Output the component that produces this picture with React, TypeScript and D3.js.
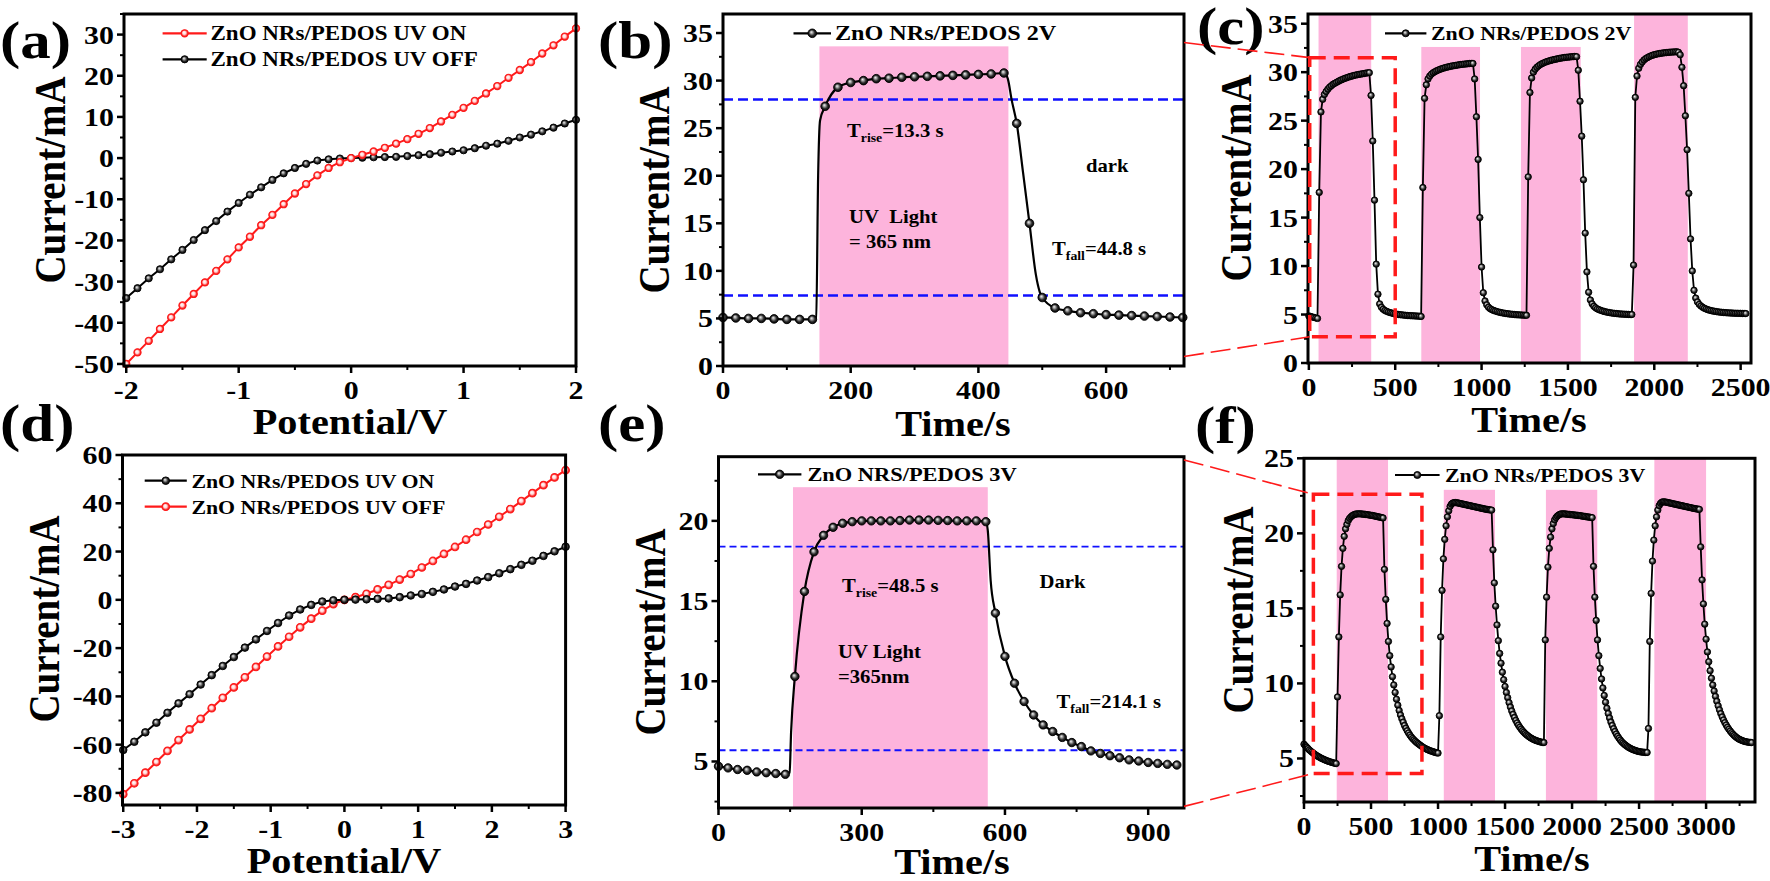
import React from 'react';
import * as d3 from 'd3';

const FONT = '"Liberation Serif","Times New Roman",serif';
const SX = 1.15; // horizontal stretch of the original figure's lettering

// ---------- (a) I-V, 2 V sweep ----------
const aVoltage = [-2, -1.9, -1.8, -1.7, -1.6, -1.5, -1.4, -1.3, -1.2, -1.1, -1, -0.9, -0.8, -0.7, -0.6, -0.5, -0.4, -0.3, -0.2, -0.1, 0, 0.1, 0.2, 0.3, 0.4, 0.5, 0.6, 0.7, 0.8, 0.9, 1, 1.1, 1.2, 1.3, 1.4, 1.5, 1.6, 1.7, 1.8, 1.9, 2];
const aOnCurrent = [-50, -47.2, -44.4, -41.5, -38.7, -35.8, -33.0, -30.2, -27.4, -24.6, -21.7, -19.1, -16.3, -13.8, -11.2, -8.6, -6.3, -4.2, -2.4, -1.0, 0, 0.8, 1.6, 2.5, 3.5, 4.6, 5.9, 7.3, 8.9, 10.5, 12.2, 13.9, 15.7, 17.5, 19.5, 21.4, 23.3, 25.4, 27.4, 29.5, 31.5];
const aOffCurrent = [-34.0, -31.6, -29.2, -27.0, -24.6, -22.3, -19.9, -17.5, -15.3, -13.0, -10.9, -8.9, -7.1, -5.3, -3.7, -2.4, -1.4, -0.6, -0.3, -0.1, 0, 0.1, 0.2, 0.25, 0.3, 0.5, 0.7, 0.95, 1.3, 1.6, 1.9, 2.4, 3.0, 3.5, 4.2, 5.0, 5.7, 6.5, 7.4, 8.4, 9.3];
const aXTicks = [-2, -1, 0, 1, 2];
const aYTicks = [-50, -40, -30, -20, -10, 0, 10, 20, 30];

// ---------- (d) I-V, 3 V sweep ----------
const dVoltage = [-3, -2.85, -2.7, -2.55, -2.4, -2.25, -2.1, -1.95, -1.8, -1.65, -1.5, -1.35, -1.2, -1.05, -0.9, -0.75, -0.6, -0.45, -0.3, -0.15, 0, 0.15, 0.3, 0.45, 0.6, 0.75, 0.9, 1.05, 1.2, 1.35, 1.5, 1.65, 1.8, 1.95, 2.1, 2.25, 2.4, 2.55, 2.7, 2.85, 3];
const dOnCurrent = [-62.2, -58.8, -54.9, -50.9, -46.8, -42.9, -39.1, -35.1, -31.2, -27.4, -23.7, -19.8, -16.4, -12.9, -9.6, -6.5, -4.0, -2.1, -0.7, -0.2, 0, 0.1, 0.2, 0.4, 0.6, 1.1, 1.8, 2.4, 3.3, 4.3, 5.5, 6.6, 8.0, 9.4, 11.0, 12.7, 14.5, 16.2, 18.2, 20.1, 22.0];
const dOffCurrent = [-80.5, -76, -71.6, -67.2, -62.6, -58.1, -53.7, -49.3, -44.9, -40.6, -36.3, -32.1, -27.8, -23.5, -19.3, -15.3, -11.4, -7.8, -4.5, -1.8, 0, 1.1, 2.5, 4.3, 6.2, 8.4, 10.7, 13.4, 16.1, 19.0, 21.9, 24.9, 28.1, 31.2, 34.4, 37.6, 40.9, 44.2, 47.5, 50.7, 53.7];
const dXTicks = [-3, -2, -1, 0, 1, 2, 3];
const dYTicks = [-80, -60, -40, -20, 0, 20, 40, 60];

// ---------- (b) single pulse, 2 V ----------
const bTime = [0, 20, 40, 60, 80, 100, 120, 140, 160, 180, 200, 220, 240, 260, 280, 300, 320, 340, 360, 380, 400, 420, 440, 460, 480, 500, 520, 540, 560, 580, 600, 620, 640, 660, 680, 700, 720];
const bCurrent = [5.1, 5.05, 5.0, 5.0, 4.95, 4.9, 4.9, 4.9, 27.3, 29.3, 29.8, 30.0, 30.2, 30.25, 30.35, 30.4, 30.45, 30.5, 30.55, 30.6, 30.65, 30.7, 30.8, 25.5, 15.0, 7.2, 6.1, 5.8, 5.6, 5.5, 5.4, 5.35, 5.3, 5.25, 5.2, 5.15, 5.1];
const bKnotTime = [146, 149, 152, 446, 452, 470, 490, 496];
const bKnotCurrent = [5.0, 20, 25.8, 30.2, 28.0, 20.3, 9.6, 7.8];
const bBand = [151, 447, 33.6];
const bThresholds = [28.0, 7.4];
const bXTicks = [0, 200, 400, 600];
const bYTicks = [0, 5, 10, 15, 20, 25, 30, 35];

// ---------- (e) single pulse, 3 V ----------
const eTime = [0, 20, 40, 60, 80, 100, 120, 140, 160, 180, 200, 220, 240, 260, 280, 300, 320, 340, 360, 380, 400, 420, 440, 460, 480, 500, 520, 540, 560, 580, 600, 620, 640, 660, 680, 700, 720, 740, 760, 780, 800, 820, 840, 860, 880, 900, 920, 940, 960];
const eCurrent = [4.7, 4.6, 4.5, 4.45, 4.35, 4.3, 4.25, 4.2, 10.3, 15.6, 18.07, 19.1, 19.6, 19.85, 19.95, 20.0, 20.0, 20.0, 20.0, 20.02, 20.05, 20.05, 20.05, 20.03, 20.02, 20.0, 20.0, 20.0, 19.95, 14.25, 11.55, 9.88, 8.74, 7.9, 7.28, 6.87, 6.5, 6.18, 5.93, 5.66, 5.5, 5.36, 5.23, 5.1, 5.03, 4.94, 4.88, 4.82, 4.78];
const eKnotTime = [149, 152, 564, 570];
const eKnotCurrent = [4.3, 6.8, 19.4, 16.3];
const eBand = [156, 564, 22.1];
const eThresholds = [18.4, 5.7];
const eXTicks = [0, 300, 600, 900];
const eYTicks = [5, 10, 15, 20];

// ---------- (c) cycling, 2 V (10 s sampling) ----------
const cStep = 10;
const cCurrent = [
  4.85, 4.8, 4.75, 4.7, 4.65, 4.6,
  17.6, 25.9, 27.2, 27.7, 28.0, 28.25, 28.45, 28.6, 28.75, 28.85, 28.95, 29.05, 29.15, 29.22, 29.3, 29.37, 29.43, 29.5, 29.55, 29.6, 29.65, 29.7, 29.73, 29.77, 29.8, 29.83, 29.86, 29.9, 29.93, 29.95,
  27.6, 22.9, 16.8, 10.2, 7.1, 6.1, 5.75, 5.55, 5.42, 5.33, 5.26, 5.2, 5.15, 5.1, 5.06, 5.03, 5.0, 4.98, 4.96, 4.94, 4.92, 4.9, 4.89, 4.88, 4.87, 4.86, 4.85, 4.84, 4.83, 4.8,
  18.1, 27.3, 28.7, 29.3, 29.6, 29.8, 29.95, 30.05, 30.15, 30.22, 30.3, 30.36, 30.42, 30.47, 30.52, 30.56, 30.6, 30.64, 30.67, 30.7, 30.73, 30.76, 30.79, 30.81, 30.83, 30.85, 30.87, 30.89, 30.9, 30.9,
  29.3, 25.4, 21.0, 15.0, 9.9, 7.25, 6.4, 6.0, 5.75, 5.6, 5.5, 5.42, 5.36, 5.3, 5.25, 5.21, 5.17, 5.14, 5.11, 5.08, 5.06, 5.04, 5.02, 5.0, 4.98, 4.97, 4.96, 4.95, 4.94, 4.93, 4.92,
  19.2, 27.9, 29.4, 30.0, 30.3, 30.5, 30.65, 30.78, 30.88, 30.96, 31.04, 31.1, 31.16, 31.21, 31.26, 31.3, 31.34, 31.38, 31.42, 31.45, 31.48, 31.51, 31.53, 31.55, 31.57, 31.59, 31.6, 31.62, 31.6,
  30.2, 27.0, 23.4, 18.9, 13.4, 9.4, 7.3, 6.5, 6.1, 5.85, 5.7, 5.58, 5.5, 5.43, 5.37, 5.32, 5.27, 5.23, 5.2, 5.17, 5.14, 5.12, 5.1, 5.08, 5.06, 5.05, 5.04, 5.03, 5.02, 5.01, 5.0, 5.0,
  10.1, 27.4, 29.6, 30.4, 30.8, 31.05, 31.25, 31.4, 31.5, 31.6, 31.68, 31.75, 31.8, 31.85, 31.89, 31.92, 31.95, 31.98, 32.0, 32.02, 32.04, 32.06, 32.07, 32.08, 32.09, 32.1, 32.05,
  31.8, 30.5, 28.6, 25.5, 22.0, 17.5, 12.8, 9.5, 7.5, 6.7, 6.3, 6.05, 5.88, 5.75, 5.65, 5.57, 5.5, 5.45, 5.4, 5.36, 5.33, 5.3, 5.27, 5.25, 5.23, 5.21, 5.2, 5.18, 5.17, 5.16, 5.15, 5.14, 5.13, 5.13, 5.12, 5.12, 5.11, 5.11, 5.1,
];
const cBands = [[56, 361, 36], [651, 991, 32.6], [1228, 1574, 32.6], [1883, 2194, 36]];
const cZoomBox = [5, 500, 2.7, 31.5];
const cXTicks = [0, 500, 1000, 1500, 2000, 2500];
const cYTicks = [0, 5, 10, 15, 20, 25, 30, 35];

// ---------- (f) cycling, 3 V (10 s sampling) ----------
const fStep = 10;
const fCurrent = [
  5.95, 5.85, 5.75, 5.66, 5.57, 5.49, 5.42, 5.35, 5.28, 5.22, 5.16, 5.11, 5.06, 5.01, 4.97, 4.93, 4.89, 4.85, 4.82, 4.79, 4.76, 4.73, 4.71, 4.68, 4.66,
  9.1, 13.1, 15.9, 17.8, 19.0, 19.8, 20.3, 20.6, 20.85, 21.0, 21.1, 21.18, 21.23, 21.27, 21.29, 21.3, 21.3, 21.3, 21.29, 21.28, 21.27, 21.26, 21.25, 21.23, 21.22, 21.2, 21.19, 21.17, 21.15, 21.13, 21.11, 21.09, 21.07, 21.05, 21.03,
  17.6, 15.6, 14.0, 12.8, 11.85, 11.1, 10.45, 9.9, 9.4, 8.95, 8.55, 8.2, 7.9, 7.65, 7.42, 7.2, 7.02, 6.85, 6.7, 6.56, 6.44, 6.33, 6.24, 6.15, 6.07, 6.0, 5.93, 5.86, 5.8, 5.74, 5.69, 5.64, 5.6, 5.56, 5.52, 5.49, 5.46, 5.43, 5.4, 5.38, 5.36,
  7.85, 13.1, 16.2, 18.3, 19.6, 20.5, 21.1, 21.5, 21.8, 21.95, 22.02, 22.05, 22.05, 22.04, 22.02, 22.0, 21.98, 21.96, 21.94, 21.92, 21.9, 21.88, 21.86, 21.84, 21.82, 21.8, 21.78, 21.76, 21.74, 21.72, 21.7, 21.68, 21.66, 21.64, 21.62, 21.6, 21.59, 21.57, 21.56, 21.55,
  18.9, 16.7, 15.15, 13.9, 12.85, 12.0, 11.35, 10.75, 10.25, 9.8, 9.4, 9.05, 8.72, 8.43, 8.17, 7.94, 7.73, 7.54, 7.37, 7.22, 7.08, 6.96, 6.85, 6.75, 6.66, 6.58, 6.51, 6.44, 6.38, 6.33, 6.28, 6.24, 6.2, 6.17, 6.14, 6.11, 6.09, 6.07, 6.06,
  12.9, 15.75, 17.75, 19.0, 19.75, 20.3, 20.65, 20.9, 21.05, 21.15, 21.22, 21.27, 21.3, 21.3, 21.3, 21.29, 21.28, 21.27, 21.26, 21.25, 21.24, 21.23, 21.22, 21.21, 21.2, 21.19, 21.18, 21.16, 21.15, 21.13, 21.12, 21.1, 21.09, 21.08, 21.06, 21.05,
  17.8, 15.75, 14.2, 12.9, 11.85, 11.0, 10.3, 9.7, 9.2, 8.75, 8.35, 8.0, 7.7, 7.43, 7.2, 6.99, 6.8, 6.63, 6.48, 6.35, 6.23, 6.12, 6.03, 5.95, 5.88, 5.81, 5.75, 5.7, 5.65, 5.61, 5.57, 5.54, 5.51, 5.48, 5.46, 5.44, 5.43, 5.42, 5.41, 5.4, 5.4,
  7.0, 12.8, 16.0, 18.15, 19.55, 20.5, 21.1, 21.55, 21.85, 22.0, 22.08, 22.1, 22.1, 22.08, 22.06, 22.04, 22.02, 22.0, 21.98, 21.96, 21.94, 21.92, 21.9, 21.88, 21.86, 21.84, 21.82, 21.8, 21.78, 21.76, 21.74, 21.72, 21.7, 21.68, 21.66, 21.64, 21.63, 21.61, 21.6,
  19.1, 16.9, 15.3, 13.95, 12.95, 12.1, 11.45, 10.85, 10.35, 9.9, 9.5, 9.14, 8.81, 8.51, 8.24, 7.99, 7.77, 7.57, 7.39, 7.23, 7.08, 6.95, 6.83, 6.72, 6.62, 6.53, 6.45, 6.38, 6.32, 6.27, 6.23, 6.19, 6.16, 6.13, 6.11, 6.09, 6.08, 6.07, 6.06,
];
const fBands = [[244, 627, 25], [1043, 1425, 22.9], [1805, 2188, 22.9], [2614, 3000, 25]];
const fZoomBox = [70, 880, 4.0, 22.6];
const fXTicks = [0, 500, 1000, 1500, 2000, 2500, 3000];
const fYTicks = [5, 10, 15, 20, 25];

// ---------- scales ----------
const xa = d3.scaleLinear().domain([-2.02, 2.0]).range([124, 576]);
const ya = d3.scaleLinear().domain([-50.5, 35]).range([366, 14]);
const xb = d3.scaleLinear().domain([0, 722]).range([723, 1184]);
const yb = d3.scaleLinear().domain([0, 37]).range([366, 14]);
const xc = d3.scaleLinear().domain([-5, 2560]).range([1308, 1751]);
const yc = d3.scaleLinear().domain([0, 36]).range([363, 14]);
const xd = d3.scaleLinear().domain([-3.01, 3]).range([122.5, 565.6]);
const yd = d3.scaleLinear().domain([-85, 60]).range([805, 455]);
const xe = d3.scaleLinear().domain([0, 975]).range([718.5, 1184]);
const ye = d3.scaleLinear().domain([2.1, 24]).range([808, 456.7]);
const xf = d3.scaleLinear().domain([0, 3365]).range([1304, 1755]);
const yf = d3.scaleLinear().domain([2.1, 25]).range([802, 458.3]);

const PINK = '#fdb4dc';
const RED = '#ff1a1a';

function Txt({ x, y, size, anchor = 'start', rotate = false, children, fill = '#000' }: any) {
  return (
    <text
      transform={`translate(${x},${y}) scale(${SX},1)${rotate ? ' rotate(-90)' : ''}`}
      fontSize={size}
      fontFamily={FONT}
      fontWeight="bold"
      textAnchor={anchor}
      fill={fill}
    >
      {children}
    </text>
  );
}

function Axes({ xs, ys, xTicks, yTicks, xMinorStep, yMinorStep }: any) {
  const [x0, x1] = xs.range();
  const [yB, yT] = ys.range();
  const [dx0, dx1] = xs.domain();
  const [dy0, dy1] = ys.domain();
  const xMinor = d3.range(Math.ceil(dx0 / xMinorStep) * xMinorStep, dx1 + 1e-9, xMinorStep).filter((v: number) => !xTicks.some((t: number) => Math.abs(t - v) < 1e-6));
  const yMinor = d3.range(Math.ceil(dy0 / yMinorStep) * yMinorStep, dy1 + 1e-9, yMinorStep).filter((v: number) => !yTicks.some((t: number) => Math.abs(t - v) < 1e-6));
  return (
    <g>
      <rect x={x0} y={yT} width={x1 - x0} height={yB - yT} fill="none" stroke="#000" strokeWidth={3} />
      {xTicks.map((v: number) => (
        <line key={'xt' + v} x1={xs(v)} x2={xs(v)} y1={yB} y2={yB + 7} stroke="#000" strokeWidth={2.5} />
      ))}
      {xMinor.map((v: number) => (
        <line key={'xm' + v} x1={xs(v)} x2={xs(v)} y1={yB} y2={yB + 4} stroke="#000" strokeWidth={2} />
      ))}
      {yTicks.map((v: number) => (
        <line key={'yt' + v} x1={x0} x2={x0 - 7} y1={ys(v)} y2={ys(v)} stroke="#000" strokeWidth={2.5} />
      ))}
      {yMinor.map((v: number) => (
        <line key={'ym' + v} x1={x0} x2={x0 - 4} y1={ys(v)} y2={ys(v)} stroke="#000" strokeWidth={2} />
      ))}
      {xTicks.map((v: number) => (
        <Txt key={'xl' + v} x={xs(v)} y={yB + 33} size={26} anchor="middle">{String(v)}</Txt>
      ))}
      {yTicks.map((v: number) => (
        <Txt key={'yl' + v} x={x0 - 10} y={ys(v) + 9} size={26} anchor="end">{String(v)}</Txt>
      ))}
    </g>
  );
}

function Marker({ cx, cy, r, red = false }: any) {
  return <circle cx={cx} cy={cy} r={r} fill={red ? 'url(#gRed)' : 'url(#gBlack)'} stroke={red ? RED : '#000'} strokeWidth={red ? 1.1 : 0.9} />;
}

function Series({ xs, ys, xv, yv, r, red = false, lineW = 2, knotsX = [], knotsY = [], curve = d3.curveLinear }: any) {
  const pts = xv.map((x: number, i: number) => [x, yv[i]]);
  const knots = knotsX.map((x: number, i: number) => [x, knotsY[i]]);
  const all = [...pts, ...knots].sort((p: number[], q: number[]) => p[0] - q[0]);
  const line = d3.line<number[]>().x((p) => xs(p[0])).y((p) => ys(p[1])).curve(curve);
  return (
    <g>
      <path d={line(all) || ''} fill="none" stroke={red ? RED : '#000'} strokeWidth={lineW} />
      {pts.map((p: number[], i: number) => (
        <Marker key={i} cx={xs(p[0])} cy={ys(p[1])} r={r} red={red} />
      ))}
    </g>
  );
}

function Legend({ x1, x2, y, tx, label, red = false, size = 20, r = 4 }: any) {
  return (
    <g>
      <line x1={x1} x2={x2} y1={y} y2={y} stroke={red ? RED : '#000'} strokeWidth={2.2} />
      <Marker cx={(x1 + x2) / 2} cy={y} r={r} red={red} />
      <Txt x={tx} y={y + 7} size={size}>{label}</Txt>
    </g>
  );
}

function Sub({ x, y, main, sub, rest }: any) {
  return (
    <text transform={`translate(${x},${y}) scale(${SX},1)`} fontFamily={FONT} fontWeight="bold" fontSize={18}>
      <tspan>{main}</tspan>
      <tspan fontSize={12} dy={5}>{sub}</tspan>
      <tspan dy={-5}>{rest}</tspan>
    </text>
  );
}

function Bands({ xs, ys, bands }: any) {
  const [yB] = ys.range();
  return (
    <g>
      {bands.map((b: number[], i: number) => (
        <rect key={i} x={xs(b[0])} y={ys(b[2])} width={xs(b[1]) - xs(b[0])} height={yB - ys(b[2])} fill={PINK} />
      ))}
    </g>
  );
}

function Thresholds({ xs, ys, values, w, dash }: any) {
  const [x0, x1] = xs.range();
  return (
    <g>
      {values.map((v: number) => (
        <line key={v} x1={x0} x2={x1} y1={ys(v)} y2={ys(v)} stroke="#1010ff" strokeWidth={w} strokeDasharray={dash} />
      ))}
    </g>
  );
}

function ZoomBox({ xs, ys, box }: any) {
  return (
    <rect x={xs(box[0])} y={ys(box[3])} width={xs(box[1]) - xs(box[0])} height={ys(box[2]) - ys(box[3])} fill="none" stroke={RED} strokeWidth={3.5} strokeDasharray="16,8" />
  );
}

export default function App() {
  const cTime = cCurrent.map((_, i) => i * cStep);
  const fTime = fCurrent.map((_, i) => i * fStep);
  const xbR = xb.range()[1];
  const xeR = xe.range()[1];

  return (
    <svg width={1770} height={881} style={{ position: 'absolute', left: 0, top: 0, background: '#fff' }}>
      <defs>
        <radialGradient id="gBlack" cx="50%" cy="50%" r="50%" fx="38%" fy="35%">
          <stop offset="0%" stopColor="#f2f2f2" />
          <stop offset="28%" stopColor="#a8a8a8" />
          <stop offset="65%" stopColor="#2e2e2e" />
          <stop offset="100%" stopColor="#000" />
        </radialGradient>
        <radialGradient id="gRed" cx="50%" cy="50%" r="50%" fx="40%" fy="38%">
          <stop offset="0%" stopColor="#ffffff" />
          <stop offset="45%" stopColor="#ffd6d6" />
          <stop offset="75%" stopColor="#ff4a4a" />
          <stop offset="100%" stopColor="#e00000" />
        </radialGradient>
      </defs>
      <rect x={0} y={0} width={1770} height={881} fill="#fff" />

      {/* panel letters */}
      <Txt x={0} y={58} size={53}>(a)</Txt>
      <Txt x={598} y={58} size={53}>(b)</Txt>
      <Txt x={1197} y={44} size={53}>(c)</Txt>
      <Txt x={0} y={441} size={53}>(d)</Txt>
      <Txt x={598} y={441} size={53}>(e)</Txt>
      <Txt x={1195} y={443} size={53}>(f)</Txt>

      {/* ---------- (a) ---------- */}
      <Series xs={xa} ys={ya} xv={aVoltage} yv={aOffCurrent} r={3.6} />
      <Series xs={xa} ys={ya} xv={aVoltage} yv={aOnCurrent} r={3.6} red />
      <Axes xs={xa} ys={ya} xTicks={aXTicks} yTicks={aYTicks} xMinorStep={0.5} yMinorStep={5} />
      <Legend x1={162.6} x2={206.7} y={33.3} tx={210.5} label="ZnO NRs/PEDOS UV ON" red size={20} r={3.6} />
      <Legend x1={162.6} x2={206.7} y={59.3} tx={210.5} label="ZnO NRs/PEDOS UV OFF" size={20} r={3.6} />
      <Txt x={350} y={434} size={35} anchor="middle">Potential/V</Txt>
      <Txt x={65} y={180} size={39} anchor="middle" rotate>Current/mA</Txt>

      {/* ---------- (b) ---------- */}
      <Bands xs={xb} ys={yb} bands={[bBand]} />
      <Thresholds xs={xb} ys={yb} values={bThresholds} w={2.5} dash="10,5" />
      <Series xs={xb} ys={yb} xv={bTime} yv={bCurrent} r={4.3} knotsX={bKnotTime} knotsY={bKnotCurrent} curve={d3.curveMonotoneX} lineW={2.2} />
      <Axes xs={xb} ys={yb} xTicks={bXTicks} yTicks={bYTicks} xMinorStep={100} yMinorStep={2.5} />
      <Legend x1={793.5} x2={831} y={33.3} tx={835} label="ZnO NRs/PEDOS 2V" size={21} r={4.3} />
      <Sub x={847} y={137} main="T" sub="rise" rest="=13.3 s" />
      <Txt x={1086} y={172} size={18}>dark</Txt>
      <Txt x={849} y={223} size={18}>{'UV\u00a0\u00a0Light'}</Txt>
      <Txt x={849} y={248} size={18}>= 365 nm</Txt>
      <Sub x={1052} y={255} main="T" sub="fall" rest="=44.8 s" />
      <Txt x={953} y={436} size={35} anchor="middle">Time/s</Txt>
      <Txt x={669} y={190} size={39} anchor="middle" rotate>Current/mA</Txt>

      {/* ---------- (c) ---------- */}
      <Bands xs={xc} ys={yc} bands={cBands} />
      <Series xs={xc} ys={yc} xv={cTime} yv={cCurrent} r={3.2} lineW={1.8} />
      <Axes xs={xc} ys={yc} xTicks={cXTicks} yTicks={cYTicks} xMinorStep={250} yMinorStep={2.5} />
      <Legend x1={1385} x2={1426.4} y={33.3} tx={1431} label="ZnO NRs/PEDOS 2V" size={19} r={3.5} />
      <ZoomBox xs={xc} ys={yc} box={cZoomBox} />
      <Txt x={1529} y={432} size={35} anchor="middle">Time/s</Txt>
      <Txt x={1251} y={178} size={39} anchor="middle" rotate>Current/mA</Txt>

      {/* ---------- (d) ---------- */}
      <Series xs={xd} ys={yd} xv={dVoltage} yv={dOffCurrent} r={3.8} red />
      <Series xs={xd} ys={yd} xv={dVoltage} yv={dOnCurrent} r={3.8} />
      <Axes xs={xd} ys={yd} xTicks={dXTicks} yTicks={dYTicks} xMinorStep={0.5} yMinorStep={10} />
      <Legend x1={144.7} x2={186.8} y={480.7} tx={191.4} label="ZnO NRs/PEDOS UV ON" size={19} r={3.8} />
      <Legend x1={144.7} x2={186.8} y={506.7} tx={191.4} label="ZnO NRs/PEDOS UV OFF" red size={19} r={3.8} />
      <Txt x={344} y={873} size={35} anchor="middle">Potential/V</Txt>
      <Txt x={59} y={619} size={39} anchor="middle" rotate>Current/mA</Txt>

      {/* ---------- (e) ---------- */}
      <Bands xs={xe} ys={ye} bands={[eBand]} />
      <Thresholds xs={xe} ys={ye} values={eThresholds} w={1.8} dash="7,4" />
      <Series xs={xe} ys={ye} xv={eTime} yv={eCurrent} r={4.2} knotsX={eKnotTime} knotsY={eKnotCurrent} curve={d3.curveMonotoneX} lineW={2.2} />
      <Axes xs={xe} ys={ye} xTicks={eXTicks} yTicks={eYTicks} xMinorStep={150} yMinorStep={2.5} />
      <Legend x1={758} x2={801.4} y={474.3} tx={807.4} label="ZnO NRS/PEDOS 3V" size={19.5} r={4.2} />
      <Sub x={842} y={592} main="T" sub="rise" rest="=48.5 s" />
      <Txt x={1039.5} y={588} size={18}>Dark</Txt>
      <Txt x={838} y={658} size={18}>UV Light</Txt>
      <Txt x={838} y={683} size={18}>=365nm</Txt>
      <Sub x={1056.5} y={708} main="T" sub="fall" rest="=214.1 s" />
      <Txt x={952} y={874} size={35} anchor="middle">Time/s</Txt>
      <Txt x={665} y={632} size={39} anchor="middle" rotate>Current/mA</Txt>

      {/* ---------- (f) ---------- */}
      <Bands xs={xf} ys={yf} bands={fBands} />
      <Series xs={xf} ys={yf} xv={fTime} yv={fCurrent} r={3.2} lineW={1.8} />
      <Axes xs={xf} ys={yf} xTicks={fXTicks} yTicks={fYTicks} xMinorStep={250} yMinorStep={2.5} />
      <Legend x1={1395} x2={1439.6} y={475} tx={1445} label="ZnO NRs/PEDOS 3V" size={19} r={3.5} />
      <ZoomBox xs={xf} ys={yf} box={fZoomBox} />
      <Txt x={1532} y={871} size={35} anchor="middle">Time/s</Txt>
      <Txt x={1253} y={610} size={39} anchor="middle" rotate>Current/mA</Txt>

      {/* zoom connectors */}
      <line x1={xbR} y1={yb(34)} x2={xc(cZoomBox[0])} y2={yc(cZoomBox[3])} stroke={RED} strokeWidth={1.6} strokeDasharray="20,7" />
      <line x1={xbR} y1={yb(1)} x2={xc(cZoomBox[0])} y2={yc(cZoomBox[2])} stroke={RED} strokeWidth={1.6} strokeDasharray="20,7" />
      <line x1={xeR} y1={ye(23.8)} x2={xf(fZoomBox[0])} y2={yf(fZoomBox[3])} stroke={RED} strokeWidth={1.6} strokeDasharray="20,7" />
      <line x1={xeR} y1={ye(2.2)} x2={xf(fZoomBox[0])} y2={yf(fZoomBox[2])} stroke={RED} strokeWidth={1.6} strokeDasharray="20,7" />
    </svg>
  );
}
